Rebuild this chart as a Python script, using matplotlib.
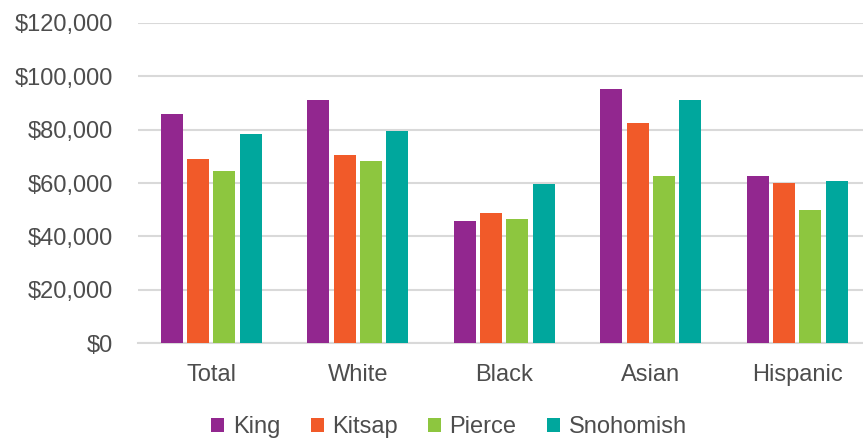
import numpy as np
import matplotlib.pyplot as plt
from matplotlib.ticker import FuncFormatter

plt.rcParams['font.family'] = ['Liberation Sans', 'DejaVu Sans']

groups = ['Total', 'White', 'Black', 'Asian', 'Hispanic']
counties = ['King', 'Kitsap', 'Pierce', 'Snohomish']
king = [85700, 91100, 45700, 95100, 62700]
kitsap = [69100, 70400, 48600, 82600, 59900]
pierce = [64400, 68300, 46500, 62700, 49900]
snohomish = [78500, 79400, 59500, 91100, 60900]
colors = ['#92278F', '#F15A29', '#8DC63F', '#00A79D']

series = [king, kitsap, pierce, snohomish]

fig = plt.figure(figsize=(8.63, 4.41), dpi=100)
ax = fig.add_axes([138 / 863, 0.222, 725 / 863, 0.726])

x = np.arange(len(groups))
pitch = 0.18
width = 0.15
for i, (vals, name, c) in enumerate(zip(series, counties, colors)):
    ax.bar(x + (i - 1.5) * pitch, vals, width, color=c, label=name, zorder=3)

ax.set_xlim(-0.5, -0.5 + 725 / 146.5)
ax.set_ylim(0, 120000)
ax.set_yticks(np.arange(0, 120001, 20000))
ax.yaxis.set_major_formatter(FuncFormatter(lambda v, p: '${:,.0f}'.format(v)))
ax.set_xticks(x)
ax.set_xticklabels(groups)
ax.grid(axis='y', color='#d9d9d9', linewidth=1.5, zorder=0)
for s in ['top', 'right', 'left']:
    ax.spines[s].set_visible(False)
ax.spines['bottom'].set_color('#d9d9d9')
ax.spines['bottom'].set_linewidth(1.5)
ax.tick_params(axis='both', length=0, labelsize=17, colors='#4d4d4d')
ax.tick_params(axis='y', pad=18)
ax.tick_params(axis='x', pad=15)

ax.legend(loc='center', bbox_to_anchor=(449 / 863, 1 - 427 / 441), ncol=4,
          frameon=False, fontsize=17, handlelength=0.55, handleheight=0.55,
          handletextpad=0.35, columnspacing=1.3, labelcolor='#4d4d4d',
          bbox_transform=fig.transFigure)

fig.savefig('out.png', dpi=100)
